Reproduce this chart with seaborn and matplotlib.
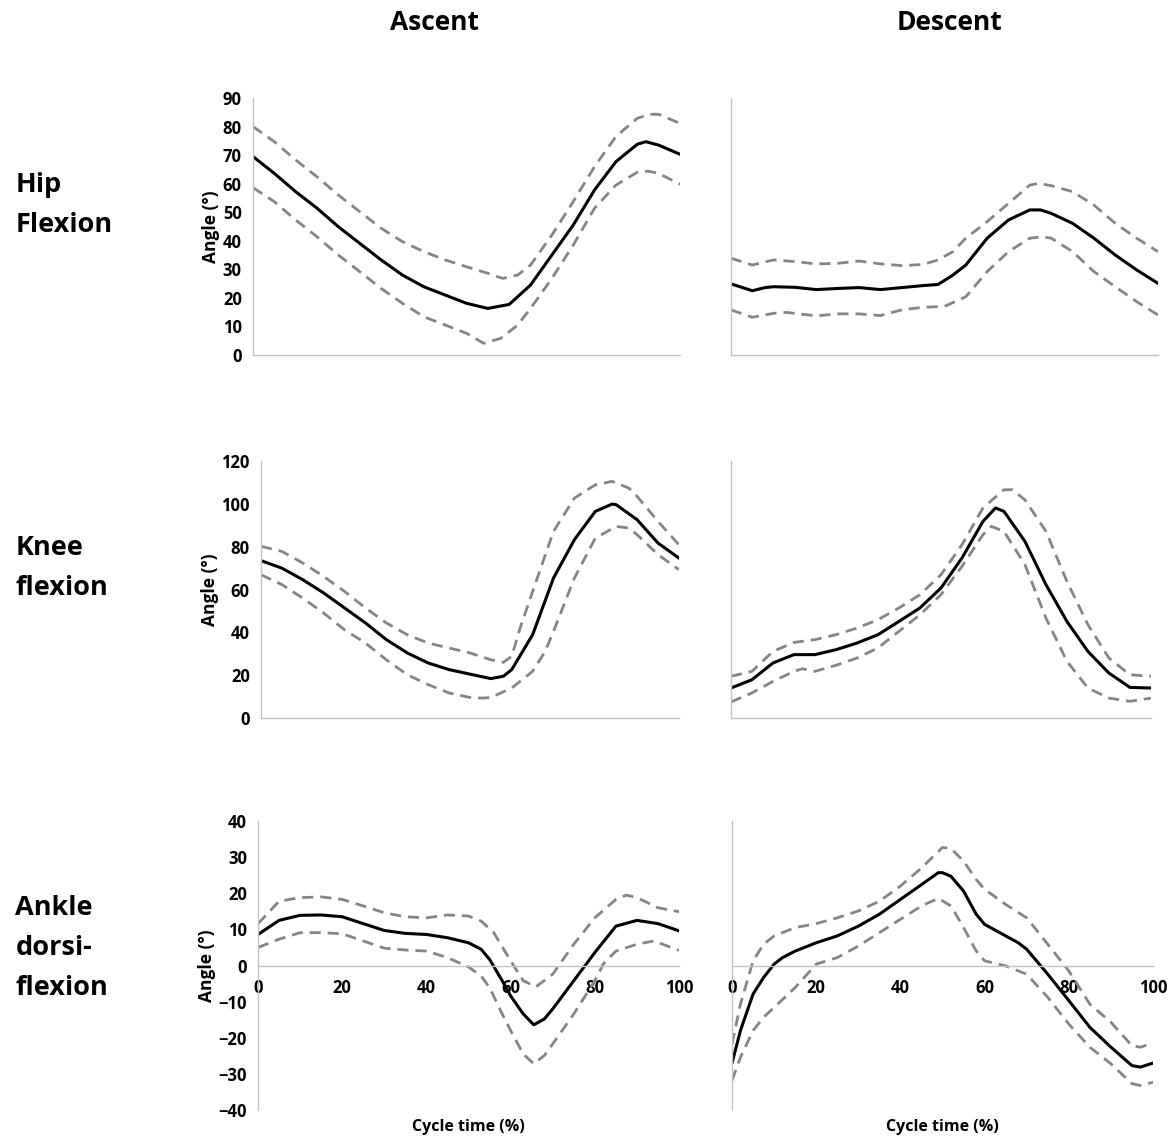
import numpy as np
import matplotlib
matplotlib.use("Agg")
import matplotlib.pyplot as plt
import seaborn as sns

sns.set_style("white")
plt.rcParams['font.family'] = ['Open Sans', 'DejaVu Sans']
plt.rcParams['font.weight'] = 'bold'
plt.rcParams['text.color'] = 'black'
plt.rcParams['axes.labelcolor'] = 'black'

# ---- Hip flexion, ascent ----
hip_asc_x = [0, 5, 10, 15, 20, 25, 30, 35, 40, 45, 50, 55, 60, 65, 70, 75, 80, 85, 90, 92, 95, 100]
hip_asc_mean = [69.5, 63.6, 57.2, 51.4, 44.9, 39.1, 33.3, 28, 23.9, 21, 18.1, 16.3, 17.7, 24.5, 35, 45.5, 57.8, 67.7, 73.8, 74.7, 73.5, 70.3]
hip_asc_up_x = [0, 5, 10, 15, 20, 25, 30, 35, 40, 45, 50, 55, 58.5, 62, 65, 70, 75, 80, 85, 90, 93, 95, 100]
hip_asc_up = [80, 74.7, 68.3, 62.4, 56, 50.2, 44.4, 39.7, 36.2, 33.3, 30.9, 28.6, 26.8, 28, 31.5, 42, 53.7, 66, 76.5, 82.9, 84.3, 84.3, 81.1]
hip_asc_lo_x = [0, 5, 10, 15, 20, 25, 30, 35, 40, 45, 50, 54, 58, 62, 65, 70, 75, 80, 85, 90, 92.5, 95, 100]
hip_asc_lo = [58.6, 53.7, 47.3, 41.4, 35, 29.2, 23.3, 18.1, 13.4, 10.5, 7.6, 4.1, 5.8, 10.5, 16.3, 26.8, 38.5, 51.4, 59.5, 64, 64.4, 63.6, 59.8]

# ---- Hip flexion, descent ----
hip_des_x = [0, 5, 8, 10, 15, 20, 25, 30, 35, 40, 45, 48.5, 52, 55, 60, 65, 70, 72.5, 75, 80, 85, 90, 95, 100]
hip_des_mean = [24.9, 22.5, 23.6, 23.9, 23.7, 22.9, 23.3, 23.6, 22.9, 23.6, 24.3, 24.7, 28, 31.5, 40.9, 47.3, 50.8, 50.8, 49.6, 46.1, 40.9, 35, 29.8, 25.1]
hip_des_up_x = [0, 5, 10, 15, 20, 25, 30, 35, 40, 45, 48.5, 52, 55, 60, 65, 70, 72, 75, 80, 85, 90, 95, 100]
hip_des_up = [33.9, 31.5, 33.3, 32.7, 31.9, 32.1, 32.9, 31.9, 31.3, 31.7, 33.3, 36.2, 40.9, 46.7, 53.1, 59.5, 60.1, 59.3, 57.2, 52.5, 46.1, 40.9, 36.2]
hip_des_lo_x = [0, 5, 10, 13, 20, 25, 30, 35, 40, 45, 50, 55, 60, 65, 70, 73, 75, 80, 85, 90, 95, 100]
hip_des_lo = [15.8, 13.2, 14.6, 14.9, 13.7, 14.4, 14.4, 13.8, 15.8, 16.7, 17, 20.4, 29.2, 36.2, 40.9, 41.4, 40.9, 36.2, 29.2, 23.9, 18.7, 14]

# ---- Knee flexion, ascent ----
knee_asc_x = [0, 5, 10, 15, 20, 25, 30, 35, 40, 45, 50, 55, 58, 60, 65, 70, 75, 80, 84, 85, 90, 95, 100]
knee_asc_mean = [73.5, 70, 64.6, 58.4, 51.4, 44.4, 36.6, 30.4, 25.7, 22.6, 20.5, 18.4, 19.5, 22.6, 38.9, 65.4, 83.3, 96.5, 99.9, 99.6, 92.6, 81.7, 74.7]
knee_asc_up_x = [0, 5, 10, 15, 20, 25, 30, 35, 40, 45, 50, 55, 58, 60, 62, 65, 70, 75, 80, 84, 88, 90, 95, 100]
knee_asc_up = [80.2, 77.8, 72.4, 66.1, 59.1, 51.4, 44.4, 38.9, 35, 32.7, 30.4, 27.2, 26, 28.8, 42, 59.1, 87.2, 102.7, 108.9, 110.5, 107.4, 103.5, 91.8, 80.9]
knee_asc_lo_x = [0, 5, 10, 15, 20, 25, 30, 35, 40, 45, 50, 53, 55, 60, 65, 68, 70, 75, 80, 85, 88, 90, 95, 100]
knee_asc_lo = [66.9, 62.3, 56, 49, 41.2, 35, 27.2, 20.2, 15.6, 11.7, 9.6, 9.3, 9.6, 14, 21.8, 31.1, 40.5, 65.4, 84, 89.5, 88.7, 85.6, 76.3, 69.3]

# ---- Knee flexion, descent ----
knee_des_x = [0, 5, 10, 15, 17, 20, 25, 30, 35, 40, 45, 50, 55, 60, 63, 65, 70, 75, 80, 85, 90, 95, 100]
knee_des_mean = [14, 17.9, 25.7, 29.6, 29.6, 29.6, 31.9, 35, 38.9, 45.1, 51.4, 60.7, 74.7, 91.8, 98.1, 96.5, 82.5, 62.3, 45.1, 31.1, 21, 14.3, 14]
knee_des_up_x = [0, 5, 10, 15, 20, 25, 30, 35, 40, 45, 50, 55, 60, 65, 67, 70, 75, 80, 85, 90, 95, 100]
knee_des_up = [19.5, 21.8, 31.1, 35.3, 36.6, 38.9, 42, 45.9, 51.4, 57.6, 66.9, 80.9, 98.1, 106.6, 106.6, 101.9, 87.2, 63.8, 43.6, 28, 20.2, 19.5]
knee_des_lo_x = [0, 5, 10, 15, 17, 20, 25, 30, 35, 40, 45, 50, 55, 60, 62, 65, 70, 75, 80, 85, 90, 95, 100]
knee_des_lo = [7.5, 11.7, 17.1, 21.8, 23, 21.8, 24.6, 28, 32.7, 40.5, 48.2, 57.6, 70.8, 85.6, 89.5, 87.2, 71.6, 46.7, 26.5, 14, 9.3, 7.8, 9.3]

# ---- Ankle dorsiflexion, ascent ----
ank_asc_x = [0, 5, 10, 15, 20, 25, 30, 35, 40, 45, 50, 53, 55, 58, 60, 63, 65.5, 68, 70, 75, 80, 85, 90, 95, 100]
ank_asc_mean = [8.6, 12.5, 13.9, 14, 13.5, 11.6, 9.7, 8.9, 8.6, 7.7, 6.3, 4.5, 1.7, -4.2, -8.4, -13.4, -16.4, -14.8, -12, -4.2, 3.6, 10.9, 12.5, 11.6, 9.6]
ank_asc_up_x = [0, 5, 10, 15, 20, 25, 30, 35, 40, 45, 50, 53, 56, 60, 63, 66, 70, 75, 80, 85, 87.5, 90, 95, 100]
ank_asc_up = [11.6, 17.8, 18.8, 19, 18.3, 16.5, 14.6, 13.5, 13.2, 14, 13.7, 12.3, 9.1, 1.3, -4.2, -5.9, -2.4, 5.9, 13.2, 18.3, 19.5, 18.8, 16, 14.9]
ank_asc_lo_x = [0, 5, 10, 15, 20, 25, 30, 35, 40, 45, 50, 53, 55, 58, 60, 63, 65.5, 68, 70, 75, 80, 82, 85, 90, 94, 100]
ank_asc_lo = [5, 7.3, 9.1, 9.1, 8.8, 6.8, 4.8, 4.3, 4, 2.2, -0.4, -2.9, -6.1, -13.4, -18, -24.5, -27.2, -24.9, -21.7, -13.4, -4.2, 0.4, 4, 5.9, 6.8, 4.2]

# ---- Ankle dorsiflexion, descent ----
ank_des_x = [0, 2, 5, 7.5, 10, 12, 15, 20, 25, 30, 35, 40, 45, 49, 50, 52, 55, 58, 60, 65, 68, 70, 75, 80, 85, 90, 95, 97, 100]
ank_des_mean = [-27, -18, -7.9, -3.3, 0.4, 2.2, 4, 6.3, 8.2, 10.9, 14.2, 18.3, 22.4, 25.7, 25.7, 24.7, 20.6, 14.2, 11.4, 8.2, 6.3, 4.5, -2.4, -9.7, -17.1, -22.6, -27.7, -28.1, -27]
ank_des_up_x = [0, 2, 5, 7.5, 10, 15, 20, 25, 30, 35, 40, 45, 50, 52, 55, 58, 60, 65, 70, 75, 80, 85, 90, 95, 97, 100]
ank_des_up = [-21.7, -10.7, 1.3, 5.9, 8.2, 10.5, 11.6, 13.2, 15.1, 17.8, 22, 27, 32.7, 32.4, 28.9, 23.8, 21.1, 16.9, 13.2, 5.9, -1.5, -10.7, -15.7, -22.2, -22.6, -21.5]
ank_des_lo_x = [0, 2, 5, 7.5, 10, 15, 20, 25, 30, 35, 40, 45, 49, 52, 55, 58, 60, 65, 70, 75, 80, 85, 90, 95, 97, 100]
ank_des_lo = [-31.8, -25.4, -18, -14.3, -11.6, -6.1, 0.4, 2.2, 5.4, 9.1, 12.8, 16.5, 18.6, 16.5, 10.5, 4, 1.3, -0.1, -2.4, -8.8, -16.2, -22.6, -27.2, -32.7, -33.2, -32.3]

col_titles = ["Ascent", "Descent"]
row_titles = ["Hip\nFlexion", "Knee\nflexion", "Ankle\ndorsi-\nflexion"]

fig = plt.figure(figsize=(11.75, 11.37), dpi=100)

# axes rectangles (figure fractions)
rects = [
    [[0.2153, 0.6878, 0.3634, 0.2260], [0.6221, 0.6878, 0.3634, 0.2260]],
    [[0.2221, 0.3685, 0.3557, 0.2260], [0.6221, 0.3685, 0.3574, 0.2260]],
    [[0.2196, 0.0237, 0.3583, 0.2542], [0.6230, 0.0237, 0.3583, 0.2542]],
]
panels = [
    [(hip_asc_x, hip_asc_mean, hip_asc_up_x, hip_asc_up, hip_asc_lo_x, hip_asc_lo),
     (hip_des_x, hip_des_mean, hip_des_up_x, hip_des_up, hip_des_lo_x, hip_des_lo)],
    [(knee_asc_x, knee_asc_mean, knee_asc_up_x, knee_asc_up, knee_asc_lo_x, knee_asc_lo),
     (knee_des_x, knee_des_mean, knee_des_up_x, knee_des_up, knee_des_lo_x, knee_des_lo)],
    [(ank_asc_x, ank_asc_mean, ank_asc_up_x, ank_asc_up, ank_asc_lo_x, ank_asc_lo),
     (ank_des_x, ank_des_mean, ank_des_up_x, ank_des_up, ank_des_lo_x, ank_des_lo)],
]
ylims = [(0, 90, 10), (0, 120, 20), (-40, 40, 10)]
axis_grey = "#c4c4c4"

for r in range(3):
    for c in range(2):
        ax = fig.add_axes(rects[r][c])
        mx, my, ux, uy, lx, ly = panels[r][c]
        sns.lineplot(x=ux, y=uy, ax=ax, color="#858585", linestyle=(0, (4, 2.5)), lw=2)
        sns.lineplot(x=lx, y=ly, ax=ax, color="#858585", linestyle=(0, (4, 2.5)), lw=2)
        sns.lineplot(x=mx, y=my, ax=ax, color="black", lw=2.2)

        lo, hi, step = ylims[r]
        ax.set_xlim(0, 100)
        ax.set_ylim(lo, hi)
        ax.set_xticks(range(0, 101, 20))
        ax.set_yticks(range(lo, hi + 1, step))
        for s in ["top", "right"]:
            ax.spines[s].set_visible(False)
        for s in ["left", "bottom"]:
            ax.spines[s].set_color(axis_grey)
            ax.spines[s].set_linewidth(1)
        ax.tick_params(axis="both", direction="out", length=5, width=1, color=axis_grey,
                       labelcolor="black", labelsize=12, pad=3)

        if c == 1:
            ax.set_yticklabels([])
            ax.set_ylabel("")
        else:
            ax.set_ylabel("Angle (°)", fontsize=12.5, fontweight="bold", labelpad=2)

        if r < 2:
            ax.set_xticklabels([])
            ax.set_xlabel("")
        else:
            ax.spines["bottom"].set_position(("data", 0))
            ax.set_xlabel("")
            ax.tick_params(axis="x", length=4, pad=6)
            ax.text(50, -44.8, "Cycle time (%)", ha="center", va="center",
                    fontsize=11.5, fontweight="bold")

fig.text(435 / 1175, 1 - 22 / 1137, col_titles[0], ha="center", va="center",
         fontsize=19, fontweight="bold")
fig.text(950 / 1175, 1 - 22 / 1137, col_titles[1], ha="center", va="center",
         fontsize=19, fontweight="bold")

fig.text(0.013, 1 - 205 / 1137, row_titles[0], ha="left", va="center", fontsize=19.5,
         fontweight="bold", linespacing=1.68)
fig.text(0.013, 1 - 568 / 1137, row_titles[1], ha="left", va="center", fontsize=19.5,
         fontweight="bold", linespacing=1.68)
fig.text(0.013, 1 - 948 / 1137, row_titles[2], ha="left", va="center", fontsize=19.5,
         fontweight="bold", linespacing=1.68)

fig.savefig("out.png", dpi=100)
